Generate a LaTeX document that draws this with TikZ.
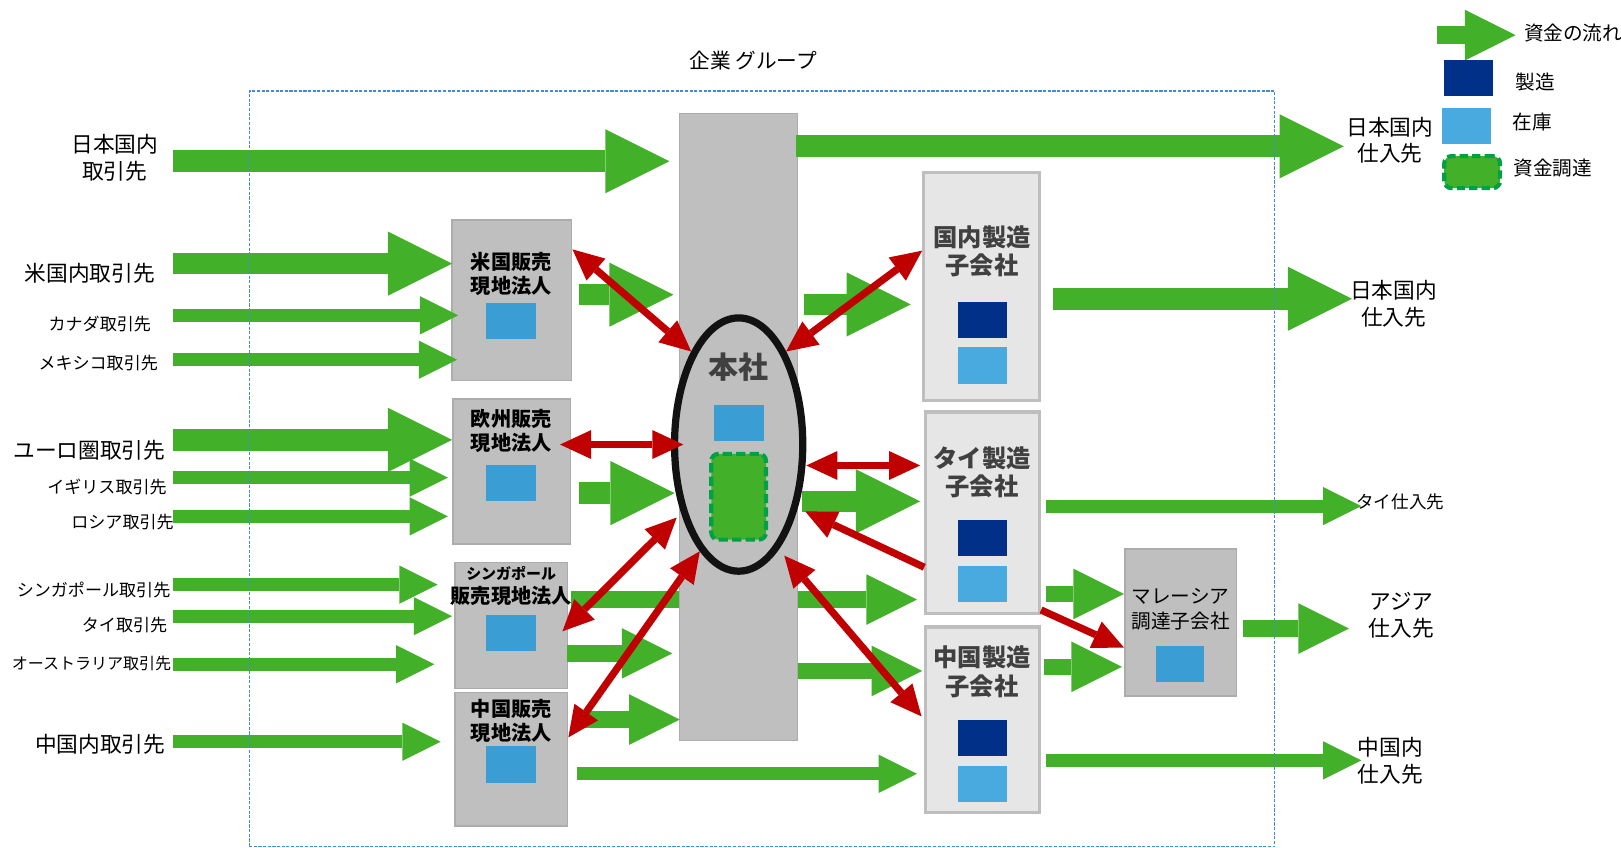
\documentclass[tikz,border=0pt]{standalone}
\usepackage{fontspec}
\setmainfont{Noto Sans CJK JP}
\usepackage{tikz}
\usetikzlibrary{arrows.meta,shapes.geometric}

\definecolor{flowgreen}{RGB}{67,176,42}
\definecolor{fundred}{RGB}{192,0,0}
\definecolor{boxgray}{RGB}{191,191,191}
\definecolor{boxedge}{RGB}{172,172,172}
\definecolor{mfggray}{RGB}{230,230,230}
\definecolor{mfgedge}{RGB}{190,190,190}
\definecolor{mfgblue}{RGB}{0,48,135}
\definecolor{stockblue}{RGB}{58,157,212}
\definecolor{stocklight}{RGB}{72,170,223}
\definecolor{fundedge}{RGB}{0,160,70}
\definecolor{groupblue}{RGB}{68,138,212}
\definecolor{darktext}{RGB}{64,64,64}

\tikzset{
    bigflow/.style={draw=flowgreen, line width=21pt, -{Triangle[length=62pt,width=62pt,line width=0pt]}},
    midflow/.style={draw=flowgreen, line width=16pt, -{Triangle[length=49pt,width=49pt,line width=0pt]}},
    thinflow/.style={draw=flowgreen, line width=12.5pt, -{Triangle[length=37pt,width=37pt,line width=0pt]}},
    fund/.style={draw=fundred, line width=7pt, {Triangle[length=30pt,width=28pt,line width=0pt]}-{Triangle[length=30pt,width=28pt,line width=0pt]}},
    fundto/.style={draw=fundred, line width=7pt, -{Triangle[length=30pt,width=28pt,line width=0pt]}},
    salesbox/.style={rectangle, fill=boxgray, draw=boxedge, line width=1.5pt},
    mfgbox/.style={rectangle, fill=mfggray, draw=mfgedge, line width=3pt},
    stock/.style={rectangle, fill=stockblue, inner sep=0, minimum width=48pt, minimum height=35pt},
    stocklt/.style={stock, fill=stocklight, minimum width=47pt},
    mfg/.style={stock, fill=mfgblue, minimum width=47pt},
    fundbox/.style={rectangle, fill=flowgreen, draw=fundedge, line width=4pt, rounded corners=7pt, dash pattern=on 8pt off 4pt},
    bigtext/.style={inner sep=0, align=center, font=\fontsize{21}{25.5}\selectfont},
    smalltext/.style={inner sep=0, align=center, font=\fontsize{16.5}{20}\selectfont},
    keytext/.style={inner sep=0, anchor=west, font=\fontsize{19}{23}\selectfont},
    boxtext/.style={inner sep=0, align=center, font=\bfseries\fontsize{19.5}{23}\selectfont},
    mfgtext/.style={inner sep=0, align=center, text=darktext, font=\bfseries\fontsize{23.5}{27.5}\selectfont},
    grouptext/.style={inner sep=0, font=\fontsize{20}{24}\selectfont}
}

\begin{document}
\begin{tikzpicture}[x=1pt,y=-1pt]
    \useasboundingbox (0,0) rectangle (1568,820);

    \node[grouptext] (title) at (728.5,59) {企業 グループ};

    \node[bigtext] (jpc) at (111,152.5) {日本国内\\取引先};
    \node[bigtext] (usc) at (87,264) {米国内取引先};
    \node[smalltext] (cac) at (96.5,313) {カナダ取引先};
    \node[smalltext] (mxc) at (95,351) {メキシコ取引先};
    \node[bigtext] (euc) at (86.5,436) {ユーロ圏取引先};
    \node[smalltext] (gbc) at (103.5,471) {イギリス取引先};
    \node[smalltext] (ruc) at (118.5,505) {ロシア取引先};
    \node[smalltext] (sgc) at (90.5,571) {シンガポール取引先};
    \node[smalltext] (thc) at (120.5,605) {タイ取引先};
    \node[smalltext, font=\fontsize{15.5}{19}\selectfont] (auc) at (88.5,642) {オーストラリア取引先};
    \node[bigtext] (cnc) at (97,720) {中国内取引先};

    \node[bigtext] (jpsup) at (1344.5,136) {日本国内\\仕入先};
    \node[bigtext] (jpsup2) at (1348,294) {日本国内\\仕入先};
    \node[smalltext, font=\fontsize{17}{20}\selectfont] (thsup) at (1354.5,485) {タイ仕入先};
    \node[bigtext] (assup) at (1355.5,595) {アジア\\仕入先};
    \node[bigtext] (cnsup) at (1345,736) {中国内\\仕入先};

    \node[mfgbox, minimum width=112pt, minimum height=221pt] (jpm) at (949.5,277) {};
    \node[mfgbox, minimum width=110pt, minimum height=195pt] (thm) at (950.5,496) {};
    \node[mfgbox, minimum width=110pt, minimum height=179pt] (cnm) at (950.5,696) {};

    \coordinate (sg-th) at (552,580);
    \draw[midflow, shorten >=7pt] (sg-th) -- (sg-th -| thm.west);

    \node[rectangle, fill=boxgray, draw=boxgray!90!black, line width=1pt,
        minimum width=114pt, minimum height=606pt] (hqcol) at (714,413) {};
    \node[ellipse, fill=boxgray, draw=black!93, line width=7pt, inner sep=0,
        minimum width=124pt, minimum height=245pt] (hq) at (714.5,430) {};
    \node[inner sep=0, text=darktext, font=\bfseries\fontsize{29}{32}\selectfont] (hq-l) at (714.5,355) {本社};
    \node[stock] (hq-s) at (715,409) {};
    \node[fundbox, minimum width=53pt, minimum height=83pt, dash pattern=on 9pt off 4pt] (hq-f) at (714.5,480.5) {};

    \node[salesbox, minimum width=116pt, minimum height=155pt] (us) at (495,290.5) {};
    \node[boxtext] (us-l) at (494.5,265) {米国販売\\現地法人};
    \node[stock] (us-s) at (494.5,310.5) {};

    \node[salesbox, minimum width=114pt, minimum height=140pt] (eu) at (495,456) {};
    \node[boxtext] (eu-l) at (494.5,417) {欧州販売\\現地法人};
    \node[stock] (eu-s) at (494.5,467.5) {};

    \node[salesbox, minimum width=109pt, minimum height=122pt] (sg) at (494.5,605) {};
    \node[boxtext] (sg-l) at (494.5,567) {{\fontsize{14.5}{17}\selectfont シンガポール}\\販売現地法人};
    \node[stock] (sg-s) at (494.5,612.5) {};

    \node[salesbox, minimum width=109pt, minimum height=129pt] (cn) at (494.5,734.5) {};
    \node[boxtext] (cn-l) at (494.5,697.5) {中国販売\\現地法人};
    \node[stock] (cn-s) at (494.5,739.5) {};

    \node[mfgtext] (jpm-l) at (950,243) {国内製造\\子会社};
    \node[mfg] (jpm-m) at (950.5,309.5) {};
    \node[stocklt] (jpm-s) at (950.5,353.5) {};

    \node[mfgtext] (thm-l) at (950,457) {タイ製造\\子会社};
    \node[mfg] (thm-m) at (950.5,520.5) {};
    \node[stocklt] (thm-s) at (950.5,564.5) {};

    \node[mfgtext] (cnm-l) at (950,650) {中国製造\\子会社};
    \node[mfg] (cnm-m) at (950.5,713.5) {};
    \node[stocklt] (cnm-s) at (950.5,758.5) {};

    \node[salesbox, minimum width=108pt, minimum height=142pt] (my) at (1142,602) {};
    \node[inner sep=0, align=center, font=\fontsize{19}{24}\selectfont] (my-l) at (1142,589) {マレーシア\\調達子会社};
    \node[stock, minimum width=47pt] (my-s) at (1141.5,642.5) {};

    \coordinate (jp-in) at (167,156);
    \draw[bigflow, shorten >=9pt] (jp-in) -- (jp-in -| hqcol.west);
    \coordinate (us-in) at (167,255);
    \draw[bigflow, shorten >=-1pt] (us-in) -- (us-in -| us.west);
    \coordinate (eu-in) at (167,425.5);
    \draw[bigflow] (eu-in) -- (eu-in -| eu.west);
    \foreach \n/\y/\tg/\s in {ca/305/us/-7pt, mx/348/us/-6pt, gb/462/eu/4pt, ru/499.5/eu/4pt,
        sgc/565.5/sg/16pt, thc/596/sg/2pt, au/642.5/sg/19pt, cnc/717.5/cn/13pt} {
        \coordinate (\n-in) at (167,\y);
        \draw[thinflow, shorten >=\s] (\n-in) -- (\n-in -| \tg.west);
    }

    \coordinate (us-out) at (560,285);
    \draw[bigflow, shorten >=5pt] (us-out) -- (us-out -| hqcol.west);
    \coordinate (eu-out) at (560,477);
    \draw[bigflow, shorten >=4pt] (eu-out) -- (eu-out -| hqcol.west);
    \coordinate (sg-out) at (548,632);
    \draw[midflow, shorten >=6pt] (sg-out) -- (sg-out -| hqcol.west);
    \coordinate (cn-out) at (554,696);
    \draw[midflow, shorten >=-1pt] (cn-out) -- (cn-out -| hqcol.west);
    \coordinate (cn-cnm) at (558,748.5);
    \draw[thinflow, shorten >=7pt] (cn-cnm) -- (cn-cnm -| cnm.west);

    \coordinate (hq-jps) at (770,141.5);
    \draw[bigflow, shorten >=2.5pt] (hq-jps) -- (hq-jps -| jpsup.west);
    \coordinate (hq-jpm) at (778,294.5);
    \draw[bigflow, shorten >=11pt] (hq-jpm) -- (hq-jpm -| jpm.west);
    \coordinate (hq-thm) at (776,485);
    \draw[bigflow, shorten >=4pt] (hq-thm) -- (hq-thm -| thm.west);
    \coordinate (hq-cnm) at (772,649);
    \draw[midflow, shorten >=2pt] (hq-cnm) -- (hq-cnm -| cnm.west);

    \coordinate (jpm-out) at (1019,289);
    \draw[bigflow, shorten >=-2pt] (jpm-out) -- (jpm-out -| jpsup2.west);
    \coordinate (thm-out) at (1012,489.5);
    \draw[thinflow, shorten >=-5pt] (thm-out) -- (thm-out -| thsup.west);
    \coordinate (thm-my) at (1012,574.5);
    \draw[midflow] (thm-my) -- (thm-my -| my.west);
    \coordinate (cnm-my) at (1010,645);
    \draw[midflow, shorten >=2pt] (cnm-my) -- (cnm-my -| my.west);
    \coordinate (my-out) at (1202,608);
    \draw[midflow, shorten >=19pt] (my-out) -- (my-out -| assup.west);
    \coordinate (cnm-out) at (1012,735.5);
    \draw[thinflow, shorten >=-3.5pt] (cnm-out) -- (cnm-out -| cnsup.west);

    \draw[fund] (us.40) -- (hq.117);
    \draw[fund, shorten <=-11pt, shorten >=-12pt] (eu.east |- hq) -- (hq.west);
    \draw[fund, shorten <=-8pt, shorten >=6pt] (sg.east) -- (hq.230);
    \draw[fund] (cn.21) -- (hq.250);
    \draw[fund] (hq.63) -- (jpm.149);
    \draw[fund, shorten >=4pt] (hq.east |- thm.141) -- (thm.141);
    \draw[fundto, shorten >=8pt] (thm.223) -- (hq.313);
    \draw[fund, shorten <=8pt, shorten >=4pt] (hq.291) -- (cnm.west);
    \draw[fundto] (thm.301) -- (my.204);

    \node[rectangle, draw=groupblue, line width=1.2pt, dash pattern=on 3pt off 1.5pt,
        minimum width=992pt, minimum height=731pt] (grp) at (737,453.5) {};

    \node[keytext] (flowkey) at (1474,32) {資金の流れ};
    \coordinate (key-in) at (1390,34);
    \draw[midflow, line width=18pt, shorten >=8pt] (key-in) -- (key-in -| flowkey.west);
    \node[mfg] (mfgkey) at (1420.5,75.5) {};
    \node[keytext] (mfgkey-l) at (1466,79) {製造};
    \node[stocklt] (stockkey) at (1418.5,121.5) {};
    \node[keytext] (stockkey-l) at (1463,118) {在庫};
    \node[fundbox, minimum width=54pt, minimum height=31pt] (fundkey) at (1424,166.5) {};
    \node[keytext] (fundkey-l) at (1464,163) {資金調達};
\end{tikzpicture}
\end{document}
